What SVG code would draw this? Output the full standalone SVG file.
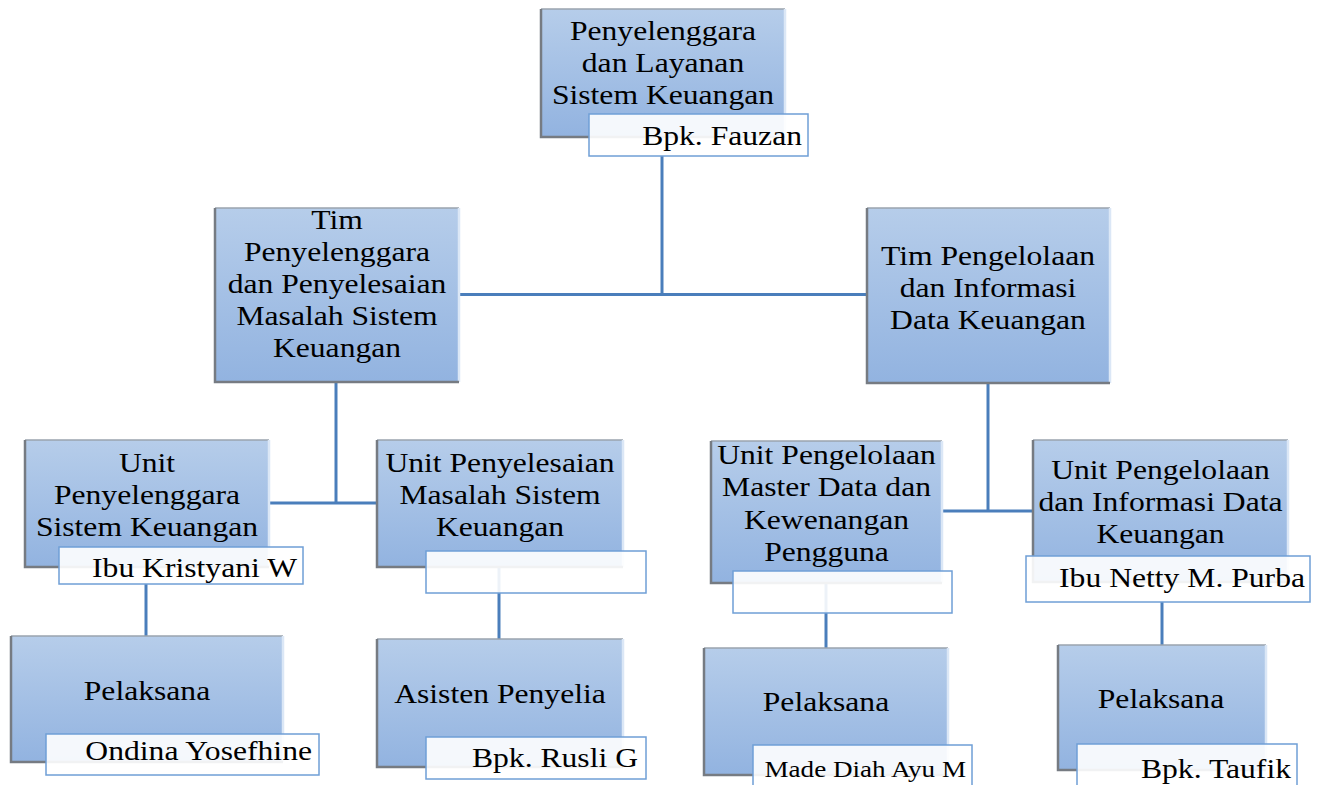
<svg xmlns="http://www.w3.org/2000/svg" width="1321" height="785" viewBox="0 0 1321 785">
  <defs>
    <linearGradient id="boxFill" x1="0" y1="0" x2="0" y2="1">
      <stop offset="0" stop-color="#b6cdea"/>
      <stop offset="1" stop-color="#92b3e0"/>
    </linearGradient>
  </defs>
  <style>
    .box { fill: url(#boxFill); }
    .edge-dark { fill: none; stroke: #767b82; stroke-width: 2.5; }
    .edge-top { fill: none; stroke: #9aa3ae; stroke-width: 1.5; }
    .edge-light { fill: none; stroke: #dbe7f6; stroke-width: 2.5; }
    .tag { fill: #ffffff; fill-opacity: 0.9; stroke: #6f9fd6; stroke-width: 1.5; }
    .conn { fill: none; stroke: #4a7ebb; stroke-width: 3; }
    text { font-family: "Liberation Serif", "Times New Roman", serif; font-size: 28px; fill: #000; }
    .c { text-anchor: middle; }
    .r { text-anchor: end; }
    .small { font-size: 24px; }
  </style>

  <rect width="1321" height="785" fill="#ffffff"/>

  <!-- connectors -->
  <g id="connectors">
    <path class="conn" d="M662,156 V294.5"/>
    <path class="conn" d="M459,294.5 H867"/>
    <path class="conn" d="M336,382 V503"/>
    <path class="conn" d="M269,503 H377"/>
    <path class="conn" d="M146,584 V636"/>
    <path class="conn" d="M499,567 V639"/>
    <path class="conn" d="M988,383 V511"/>
    <path class="conn" d="M942,511 H1033"/>
    <path class="conn" d="M826,583 V648"/>
    <path class="conn" d="M1162,602 V645"/>
  </g>

  <!-- top: Penyelenggara dan Layanan Sistem Keuangan -->
  <g id="node-penyelenggara-layanan">
    <rect class="box" x="541" y="9" width="244" height="128"/>
    <path class="edge-top" d="M541,9 H785"/>
    <path class="edge-light" d="M785,9 V137"/>
    <path class="edge-dark" d="M541,9 V137 H785"/>
    <text class="c" transform="translate(663,0) scale(1.13,1)" y="40">Penyelenggara</text>
    <text class="c" transform="translate(663,0) scale(1.13,1)" y="72">dan Layanan</text>
    <text class="c" transform="translate(663,0) scale(1.13,1)" y="104">Sistem Keuangan</text>
    <rect class="tag" x="589" y="114" width="219" height="42"/>
    <text class="r" transform="translate(802,0) scale(1.13,1)" y="145">Bpk. Fauzan</text>
  </g>

  <!-- Tim Penyelenggara dan Penyelesaian Masalah Sistem Keuangan -->
  <g id="node-tim-penyelenggara">
    <rect class="box" x="215" y="208" width="244" height="174"/>
    <path class="edge-top" d="M215,208 H459"/>
    <path class="edge-light" d="M459,208 V382"/>
    <path class="edge-dark" d="M215,208 V382 H459"/>
    <text class="c" transform="translate(337,0) scale(1.13,1)" y="229">Tim</text>
    <text class="c" transform="translate(337,0) scale(1.13,1)" y="261">Penyelenggara</text>
    <text class="c" transform="translate(337,0) scale(1.13,1)" y="293">dan Penyelesaian</text>
    <text class="c" transform="translate(337,0) scale(1.13,1)" y="325">Masalah Sistem</text>
    <text class="c" transform="translate(337,0) scale(1.13,1)" y="357">Keuangan</text>
  </g>

  <!-- Tim Pengelolaan dan Informasi Data Keuangan -->
  <g id="node-tim-pengelolaan">
    <rect class="box" x="867" y="208" width="243" height="175"/>
    <path class="edge-top" d="M867,208 H1110"/>
    <path class="edge-light" d="M1110,208 V383"/>
    <path class="edge-dark" d="M867,208 V383 H1110"/>
    <text class="c" transform="translate(988,0) scale(1.13,1)" y="265">Tim Pengelolaan</text>
    <text class="c" transform="translate(988,0) scale(1.13,1)" y="297">dan Informasi</text>
    <text class="c" transform="translate(988,0) scale(1.13,1)" y="329">Data Keuangan</text>
  </g>

  <!-- Unit Penyelenggara Sistem Keuangan -->
  <g id="node-unit-penyelenggara">
    <rect class="box" x="25" y="440" width="244" height="127"/>
    <path class="edge-top" d="M25,440 H269"/>
    <path class="edge-light" d="M269,440 V567"/>
    <path class="edge-dark" d="M25,440 V567 H269"/>
    <text class="c" transform="translate(147,0) scale(1.13,1)" y="472">Unit</text>
    <text class="c" transform="translate(147,0) scale(1.13,1)" y="504">Penyelenggara</text>
    <text class="c" transform="translate(147,0) scale(1.13,1)" y="536">Sistem Keuangan</text>
    <rect class="tag" x="59" y="547" width="244" height="37"/>
    <text class="r" transform="translate(297,0) scale(1.13,1)" y="577">Ibu Kristyani W</text>
  </g>

  <!-- Unit Penyelesaian Masalah Sistem Keuangan -->
  <g id="node-unit-penyelesaian">
    <rect class="box" x="377" y="440" width="246" height="127"/>
    <path class="edge-top" d="M377,440 H623"/>
    <path class="edge-light" d="M623,440 V567"/>
    <path class="edge-dark" d="M377,440 V567 H623"/>
    <text class="c" transform="translate(500,0) scale(1.13,1)" y="472">Unit Penyelesaian</text>
    <text class="c" transform="translate(500,0) scale(1.13,1)" y="504">Masalah Sistem</text>
    <text class="c" transform="translate(500,0) scale(1.13,1)" y="536">Keuangan</text>
    <rect class="tag" x="426" y="551" width="220" height="42"/>
  </g>

  <!-- Unit Pengelolaan Master Data dan Kewenangan Pengguna -->
  <g id="node-unit-master-data">
    <rect class="box" x="711" y="441" width="231" height="142"/>
    <path class="edge-top" d="M711,441 H942"/>
    <path class="edge-light" d="M942,441 V583"/>
    <path class="edge-dark" d="M711,441 V583 H942"/>
    <text class="c" transform="translate(826.5,0) scale(1.13,1)" y="464">Unit Pengelolaan</text>
    <text class="c" transform="translate(826.5,0) scale(1.13,1)" y="496">Master Data dan</text>
    <text class="c" transform="translate(826.5,0) scale(1.13,1)" y="529">Kewenangan</text>
    <text class="c" transform="translate(826.5,0) scale(1.13,1)" y="561">Pengguna</text>
    <rect class="tag" x="733" y="571" width="219" height="42"/>
  </g>

  <!-- Unit Pengelolaan dan Informasi Data Keuangan -->
  <g id="node-unit-informasi">
    <rect class="box" x="1033" y="440" width="255" height="142"/>
    <path class="edge-top" d="M1033,440 H1288"/>
    <path class="edge-light" d="M1288,440 V582"/>
    <path class="edge-dark" d="M1033,440 V582 H1288"/>
    <text class="c" transform="translate(1160.5,0) scale(1.13,1)" y="479">Unit Pengelolaan</text>
    <text class="c" transform="translate(1160.5,0) scale(1.13,1)" y="511">dan Informasi Data</text>
    <text class="c" transform="translate(1160.5,0) scale(1.13,1)" y="543">Keuangan</text>
    <rect class="tag" x="1026" y="556" width="284" height="46"/>
    <text class="r" transform="translate(1305,0) scale(1.13,1)" y="587">Ibu Netty M. Purba</text>
  </g>

  <!-- Pelaksana (Ondina Yosefhine) -->
  <g id="node-pelaksana-1">
    <rect class="box" x="11" y="636" width="272" height="126"/>
    <path class="edge-top" d="M11,636 H283"/>
    <path class="edge-light" d="M283,636 V762"/>
    <path class="edge-dark" d="M11,636 V762 H283"/>
    <text class="c" transform="translate(147,0) scale(1.13,1)" y="700">Pelaksana</text>
    <rect class="tag" x="46" y="734" width="273" height="41"/>
    <text class="r" transform="translate(312,0) scale(1.13,1)" y="760">Ondina Yosefhine</text>
  </g>

  <!-- Asisten Penyelia (Bpk. Rusli G) -->
  <g id="node-asisten-penyelia">
    <rect class="box" x="377" y="639" width="246" height="128"/>
    <path class="edge-top" d="M377,639 H623"/>
    <path class="edge-light" d="M623,639 V767"/>
    <path class="edge-dark" d="M377,639 V767 H623"/>
    <text class="c" transform="translate(500,0) scale(1.13,1)" y="703">Asisten Penyelia</text>
    <rect class="tag" x="426" y="737" width="220" height="42"/>
    <text class="r" transform="translate(638,0) scale(1.13,1)" y="767">Bpk. Rusli G</text>
  </g>

  <!-- Pelaksana (Made Diah Ayu M) -->
  <g id="node-pelaksana-3">
    <rect class="box" x="704" y="648" width="244" height="127"/>
    <path class="edge-top" d="M704,648 H948"/>
    <path class="edge-light" d="M948,648 V775"/>
    <path class="edge-dark" d="M704,648 V775 H948"/>
    <text class="c" transform="translate(826,0) scale(1.13,1)" y="711">Pelaksana</text>
    <rect class="tag" x="753" y="745" width="219" height="50"/>
    <text class="r small" transform="translate(966,0) scale(1.13,1)" y="777">Made Diah Ayu M</text>
  </g>

  <!-- Pelaksana (Bpk. Taufik) -->
  <g id="node-pelaksana-4">
    <rect class="box" x="1058" y="645" width="208" height="125"/>
    <path class="edge-top" d="M1058,645 H1266"/>
    <path class="edge-light" d="M1266,645 V770"/>
    <path class="edge-dark" d="M1058,645 V770 H1266"/>
    <text class="c" transform="translate(1161,0) scale(1.13,1)" y="708">Pelaksana</text>
    <rect class="tag" x="1077" y="744" width="220" height="50"/>
    <text class="r" transform="translate(1291,0) scale(1.13,1)" y="778">Bpk. Taufik</text>
  </g>
</svg>
